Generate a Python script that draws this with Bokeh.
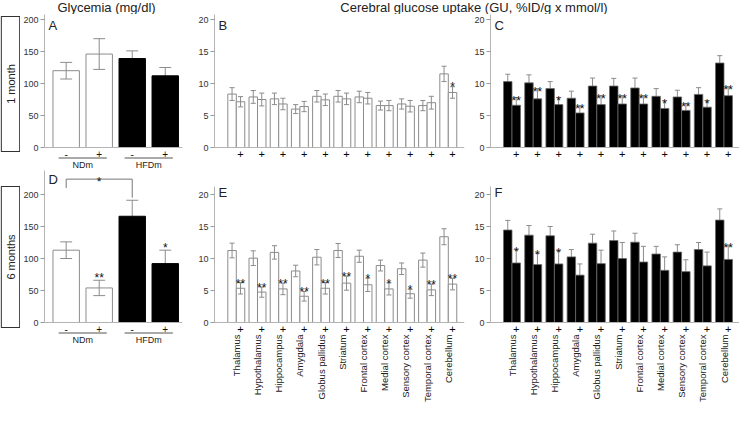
import numpy as np
from bokeh.plotting import figure
from bokeh.models import Range1d, FixedTicker, Span
from bokeh.layouts import row, column
from bokeh.embed import file_html
from bokeh.resources import INLINE
from bokeh.core.properties import value

FONT = "Liberation Sans"

# ---------------- data ----------------
titles = ["Glycemia (mg/dl)", "Cerebral glucose uptake (GU, %ID/g x mmol/l)"]
row_labels = ["1 month", "6 months"]

regions = ["Thalamus", "Hypothalamus", "Hippocampus", "Amygdala", "Globus pallidus",
           "Striatum", "Frontal cortex", "Medial cortex", "Sensory cortex",
           "Temporal cortex", "Cerebellum"]

diet_groups = ["NDm", "HFDm"]
treat_labels = ["-", "+", "-", "+"]
glyc_ticks = [0, 50, 100, 150, 200]
gu_ticks = [0, 5, 10, 15, 20]

glyc_1m = [120, 146, 139, 112]
glyc_1m_err = [13, 24, 12, 13]
glyc_1m_stars = ["", "", "", ""]
glyc_6m = [113, 54, 166, 92]
glyc_6m_err = [13, 12, 25, 21]
glyc_6m_stars = ["", "**", "", "*"]
glyc_6m_bracket_star = "*"

# B: ND, 1 month
b_ctrl = [8.35, 7.9, 7.6, 6.0, 8.0, 8.0, 7.9, 6.55, 6.8, 6.55, 11.5]
b_ctrl_err = [1.0, 1.0, 0.9, 0.7, 0.9, 0.9, 0.9, 0.7, 0.8, 0.8, 1.2]
b_trt = [7.15, 7.5, 6.8, 6.4, 7.45, 7.6, 7.7, 6.55, 6.45, 7.0, 8.6]
b_trt_err = [0.8, 1.0, 0.9, 0.8, 0.9, 0.9, 0.9, 0.8, 0.9, 1.0, 0.9]
b_stars = ["", "", "", "", "", "", "", "", "", "", "*"]

# C: HFD, 1 month
c_ctrl = [10.3, 10.1, 9.2, 7.7, 9.6, 9.6, 9.3, 8.0, 7.9, 8.3, 13.2]
c_ctrl_err = [1.15, 1.25, 1.1, 1.1, 1.25, 1.2, 1.55, 1.2, 1.05, 1.05, 1.15]
c_trt = [6.6, 7.6, 6.7, 5.4, 6.7, 6.8, 6.8, 6.1, 5.8, 6.3, 8.1]
c_trt_err = [1.2, 1.55, 1.1, 1.05, 1.35, 1.25, 1.25, 1.2, 1.05, 1.0, 1.35]
c_stars = ["**", "**", "*", "**", "**", "**", "**", "*", "**", "*", "**"]

# E: ND, 6 months
e_ctrl = [11.25, 10.05, 10.95, 8.05, 10.2, 11.25, 10.35, 8.9, 8.4, 9.75, 13.4]
e_ctrl_err = [1.15, 1.15, 1.05, 0.9, 1.2, 1.1, 0.95, 0.85, 0.9, 1.1, 1.25]
e_trt = [5.35, 4.75, 5.25, 4.1, 5.35, 6.15, 5.9, 5.25, 4.5, 5.1, 6.0]
e_trt_err = [0.9, 0.8, 0.9, 0.75, 0.9, 1.1, 1.05, 0.95, 0.7, 0.9, 0.9]
e_stars = ["**", "**", "**", "**", "**", "**", "*", "*", "*", "**", "**"]

# F: HFD, 6 months
f_ctrl = [14.45, 13.65, 13.55, 10.25, 12.4, 12.8, 12.55, 10.7, 11.0, 11.4, 16.0]
f_ctrl_err = [1.5, 1.5, 1.45, 1.15, 1.4, 1.5, 1.4, 1.2, 1.15, 1.1, 1.75]
f_trt = [9.3, 9.05, 9.15, 7.4, 9.2, 10.0, 9.45, 8.15, 7.95, 8.85, 9.85]
f_trt_err = [2.1, 1.8, 2.1, 1.75, 2.1, 2.5, 2.45, 2.1, 1.85, 2.15, 2.15]
f_stars = ["*", "*", "*", "", "", "", "", "", "", "", "**"]

# ---------------- layout geometry ----------------
PX = 6.4          # px per GU unit
PXA = PX / 10.0   # px per mg/dl
GB = 21.2         # px per brain-region step
GA = 33.5         # px per glycemia bar step

W_SIDE, W_A, W_B, W_C = 20, 164, 281, 274
BL_A, BR_A = 22, 2
BL_B, BR_B = 30, 1
BL_C, BR_C = 25, 0
H_HEAD, H_TOP, H_BOT = 14, 156, 236
Z_TOP, Z_BOT = 133, 152   # zero-line distance from the top of each row (px)

AX_COL = "#b4b4b4"
BAR_LINE = "#8c8c8c"
ERR_COL = "#8c8c8c"
TXT = "#222222"


def yr(h, z, scale):
    return Range1d(-(h - z) / scale, z / scale)


def base(w, h, xr, yrng, bl, br, with_y=True):
    p = figure(width=w, height=h, x_range=xr, y_range=yrng, x_axis_type=None,
               y_axis_type="linear" if with_y else None,
               output_backend="svg", toolbar_location=None,
               min_border_left=bl, min_border_right=br,
               min_border_top=0, min_border_bottom=0)
    p.outline_line_color = None
    p.grid.visible = False
    p.background_fill_color = "white"
    p.border_fill_color = "white"
    return p


def style_y(p, ticks, top):
    ax = p.yaxis[0]
    ax.ticker = FixedTicker(ticks=ticks)
    ax.bounds = (0, top)
    ax.axis_line_color = AX_COL
    ax.major_tick_line_color = "#999999"
    ax.major_tick_out = 4
    ax.major_tick_in = 0
    ax.minor_tick_line_color = None
    ax.major_label_text_font = FONT
    ax.major_label_text_font_size = "9px"
    ax.major_label_text_color = "#333333"
    ax.major_label_standoff = 2
    p.add_layout(Span(location=0, dimension="width", line_color=AX_COL, line_width=1))


def errbars(p, x, val, err, cap):
    x = np.asarray(x, float)
    val = np.asarray(val, float)
    err = np.asarray(err, float)
    lo, hi = val - err, val + err
    p.segment(x0=x, y0=lo, x1=x, y1=hi, line_color=ERR_COL, line_width=1)
    p.segment(x0=x - cap, y0=hi, x1=x + cap, y1=hi, line_color=ERR_COL, line_width=1)
    p.segment(x0=x - cap, y0=lo, x1=x + cap, y1=lo, line_color=ERR_COL, line_width=1)


def txt(p, x, y, text, size, align="center", baseline="middle", angle=0.0, style="normal", color=TXT):
    p.text(x=x, y=y, text=text, text_font=value(FONT), text_font_size=value(size),
           text_align=align, text_baseline=baseline, angle=angle,
           text_font_style=style, text_color=color)


def glyc_panel(h, z, vals, errs, stars, letter, letter_px, star_gap, bracket_star=None):
    xs = np.arange(len(vals), dtype=float)
    fw = W_A - BL_A - BR_A
    x0 = -22.0 / GA
    p = base(W_A, h, Range1d(x0, x0 + fw / GA), yr(h, z, PXA), BL_A, BR_A)
    style_y(p, glyc_ticks, z / PXA + 20)
    vals = np.asarray(vals, float)
    errs = np.asarray(errs, float)
    white = np.array([0, 1])
    black = np.array([2, 3])
    errbars(p, xs[black], vals[black], errs[black], 0.18)
    p.vbar(x=xs[black], top=vals[black], width=0.8, bottom=0, fill_color="black", line_color="black")
    p.vbar(x=xs[white], top=vals[white], width=0.8, bottom=0, fill_color="white", line_color=BAR_LINE)
    errbars(p, xs[white], vals[white], errs[white], 0.18)
    ctr = vals + errs + star_gap / PXA
    txt(p, xs, ctr - 7 / PXA, stars, "12px", baseline="alphabetic", color="#111111")
    txt(p, xs, np.full(4, -6 / PXA), treat_labels, "10px", color="#111111")
    gc = np.array([0.5, 2.5])
    p.segment(x0=gc - 0.73, x1=gc + 0.73, y0=np.full(2, -10.5 / PXA), y1=np.full(2, -10.5 / PXA),
              line_color="#555555", line_width=1)
    txt(p, gc, np.full(2, -17.5 / PXA), diet_groups, "9px")
    if bracket_star is not None:
        yb = 224.0
        p.segment(x0=[xs[0], xs[0], xs[2]], y0=[yb, yb, yb], x1=[xs[2], xs[0], xs[2]],
                  y1=[yb, yb - 14, vals[2] + errs[2] + 4], line_color="#777777", line_width=1)
        txt(p, [(xs[0] + xs[2]) / 2], [yb + 4 / PXA - 7 / PXA], [bracket_star], "12px",
            baseline="alphabetic", color="#111111")
    txt(p, [x0 + 4 / GA], [200 + letter_px / PXA], [letter], "13px", align="left", baseline="top")
    return p


def brain_panel(w, bl, br, h, z, lead, ctrl, ctrl_err, trt, trt_err, stars, black,
                letter, letter_px, star_gap, names):
    n = len(regions)
    i = np.arange(n, dtype=float)
    x1, x2 = i - 0.2, i + 0.2
    fw = w - bl - br
    x0 = -lead / GB
    p = base(w, h, Range1d(x0, x0 + fw / GB), yr(h, z, PX), bl, br)
    style_y(p, gu_ticks, 21.3)
    ctrl = np.asarray(ctrl, float)
    trt = np.asarray(trt, float)
    ctrl_err = np.asarray(ctrl_err, float)
    trt_err = np.asarray(trt_err, float)
    if black:
        errbars(p, x1, ctrl, ctrl_err, 0.12)
        errbars(p, x2, trt, trt_err, 0.12)
        p.vbar(x=x1, top=ctrl, width=0.4, bottom=0, fill_color="black", line_color="#6a6a6a", line_width=0.8)
        p.vbar(x=x2, top=trt, width=0.4, bottom=0, fill_color="black", line_color="#6a6a6a", line_width=0.8)
    else:
        p.vbar(x=x1, top=ctrl, width=0.4, bottom=0, fill_color="white", line_color=BAR_LINE)
        p.vbar(x=x2, top=trt, width=0.4, bottom=0, fill_color="white", line_color=BAR_LINE)
        errbars(p, x1, ctrl, ctrl_err, 0.12)
        errbars(p, x2, trt, trt_err, 0.12)
    ctr = trt + trt_err + star_gap / PX
    txt(p, x2, ctr - 7 / PX, stars, "12px", baseline="alphabetic", color="#111111")
    txt(p, x2, np.full(n, -6 / PX), ["+"] * n, "11px", color="#000000")
    if names:
        txt(p, i, np.full(n, -12 / PX), regions, "9.5px", align="right", angle=np.pi / 2)
    txt(p, [x0 + 4 / GB], [20 + letter_px / PX], [letter], "13px", align="left", baseline="top")
    return p


def side(h, z, top_px, bottom_px, label):
    p = figure(width=W_SIDE, height=h, x_range=Range1d(0, W_SIDE), y_range=yr(h, z, PXA),
               x_axis_type=None, y_axis_type=None, output_backend="svg", toolbar_location=None,
               min_border_left=0, min_border_right=0, min_border_top=0, min_border_bottom=0)
    p.outline_line_color = None
    p.background_fill_color = "white"
    p.border_fill_color = "white"
    top = (z - top_px) / PXA
    bot = -bottom_px / PXA
    p.quad(left=0.75, right=W_SIDE - 0.75, top=top, bottom=bot, fill_color=None,
           line_color="#333333", line_width=1.2)
    txt(p, [W_SIDE / 2], [(top + bot) / 2], [label], "11px", angle=np.pi / 2)
    return p


# header with the two titles
W_ALL = W_SIDE + W_A + W_B + W_C
head = figure(width=W_ALL, height=H_HEAD, x_range=Range1d(0, W_ALL), y_range=Range1d(0, H_HEAD),
              x_axis_type=None, y_axis_type=None, output_backend="svg", toolbar_location=None,
              min_border_left=0, min_border_right=0, min_border_top=0, min_border_bottom=0)
head.outline_line_color = None
head.border_fill_color = "white"
txt(head, [W_SIDE + BL_A + (W_A - BL_A - BR_A) / 2 - 6,
           W_SIDE + W_A + BL_B + (W_B - BL_B + W_C - BR_C) / 2 - 3],
    [H_HEAD / 2, H_HEAD / 2], titles, "13px")

# panels
pA = glyc_panel(H_TOP, Z_TOP, glyc_1m, glyc_1m_err, glyc_1m_stars, "A", 2, 5)
pD = glyc_panel(H_BOT, Z_BOT, glyc_6m, glyc_6m_err, glyc_6m_stars, "D", 23, 9,
                bracket_star=glyc_6m_bracket_star)
pB = brain_panel(W_B, BL_B, BR_B, H_TOP, Z_TOP, 21.8, b_ctrl, b_ctrl_err, b_trt, b_trt_err,
                 b_stars, False, "B", 2, 7, False)
pC = brain_panel(W_C, BL_C, BR_C, H_TOP, Z_TOP, 21.5, c_ctrl, c_ctrl_err, c_trt, c_trt_err,
                 c_stars, True, "C", 2, 4, False)
pE = brain_panel(W_B, BL_B, BR_B, H_BOT, Z_BOT, 21.8, e_ctrl, e_ctrl_err, e_trt, e_trt_err,
                 e_stars, False, "E", 10, 6, True)
pF = brain_panel(W_C, BL_C, BR_C, H_BOT, Z_BOT, 21.5, f_ctrl, f_ctrl_err, f_trt, f_trt_err,
                 f_stars, True, "F", 10, 5, True)

s1 = side(H_TOP, Z_TOP, 2, 4, row_labels[0])
s2 = side(H_BOT, Z_BOT, 16, 5, row_labels[1])

layout = column(head, row(s1, pA, pB, pC), row(s2, pD, pE, pF))

open("out.html", "w").write(file_html(layout, INLINE))
